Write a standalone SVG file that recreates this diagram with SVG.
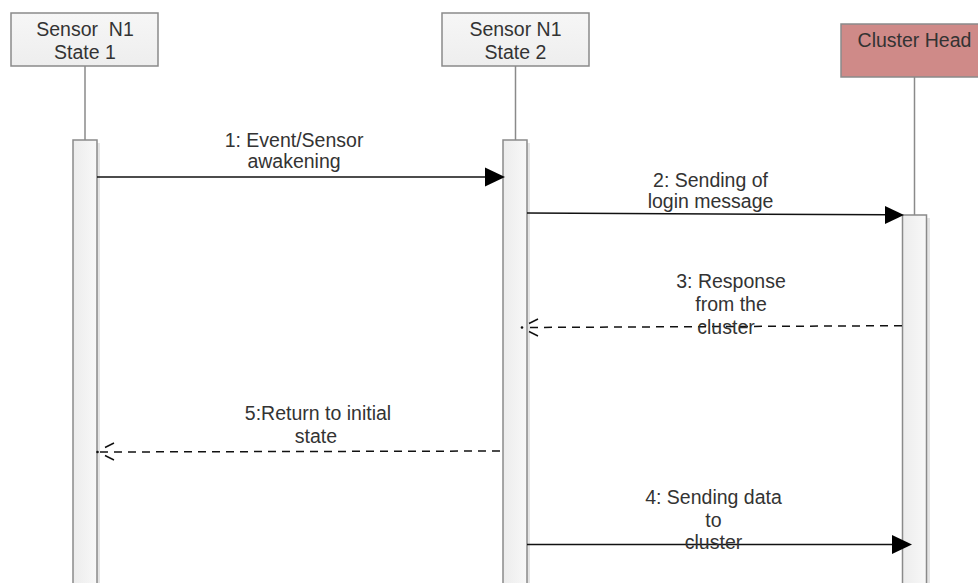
<svg xmlns="http://www.w3.org/2000/svg" width="978" height="583" viewBox="0 0 978 583">
<defs>
<linearGradient id="barg" x1="0" y1="0" x2="1" y2="0">
<stop offset="0" stop-color="#ececec"/>
<stop offset="1" stop-color="#f8f8f8"/>
</linearGradient>
<linearGradient id="boxg" x1="0" y1="0" x2="0" y2="1">
<stop offset="0" stop-color="#f6f6f6"/>
<stop offset="1" stop-color="#eeeeee"/>
</linearGradient>
</defs>
<style>
text{font-family:"Liberation Sans",Arial,sans-serif;font-size:19.5px;fill:#333;text-anchor:middle}
.box{fill:url(#boxg);stroke:#8a8a8a;stroke-width:1.5}
.life{stroke:#8a8a8a;stroke-width:1.5;fill:none}
.bar{fill:url(#barg);stroke:#8a8a8a;stroke-width:1.5}
.shadow{fill:#e4e4e4}
.msg{stroke:#111;stroke-width:1.5;fill:none}
.dash{stroke:#111;stroke-width:1.5;fill:none;stroke-dasharray:8 6}
.head{fill:#000}
.open{stroke:#111;stroke-width:1.4;fill:none}
</style>
<rect width="978" height="583" fill="#fff"/>
<g id="n1">
<rect class="box" x="11" y="13" width="147" height="53"/>
<text x="85" y="36" xml:space="preserve">Sensor  N1</text>
<text x="85" y="59">State 1</text>
<line class="life" x1="85" y1="66" x2="85" y2="140"/>
<rect class="shadow" x="97" y="143" width="3" height="445"/>
<rect class="bar" x="73" y="140" width="24" height="450"/>
</g>
<g id="n2">
<rect class="box" x="442" y="13" width="147" height="53"/>
<text x="515.5" y="36">Sensor N1</text>
<text x="515.5" y="59">State 2</text>
<line class="life" x1="515.5" y1="66" x2="515.5" y2="140"/>
<rect class="shadow" x="527" y="143" width="3" height="445"/>
<rect class="bar" x="503" y="140" width="24" height="450"/>
</g>
<g id="ch">
<rect x="841" y="24" width="147" height="53" fill="#cf8a88" stroke="#8a8a8a" stroke-width="1.5"/>
<text x="914.5" y="47">Cluster Head</text>
<line class="life" x1="914.5" y1="77" x2="914.5" y2="215"/>
<rect class="shadow" x="927" y="218" width="3" height="370"/>
<rect class="bar" x="902.5" y="215" width="24" height="375"/>
</g>
<g id="connectors">
<line class="msg" x1="97" y1="177" x2="488" y2="177"/>
<polygon class="head" points="485,167.5 505,177 485,186.5"/>
<text x="294" y="147">1: Event/Sensor</text>
<text x="294" y="168">awakening</text>

<line class="msg" x1="527" y1="213" x2="888" y2="214.8"/>
<polygon class="head" points="885,206 904,215 885,224"/>
<text x="710.5" y="187">2: Sending of</text>
<text x="710.5" y="208">login message</text>

<line class="dash" x1="902" y1="325.7" x2="524" y2="327.5"/>
<circle cx="522" cy="327.5" r="1.3" fill="#111"/>
<path class="open" d="M529,323.5 L538,319 M529,331.5 L538,336"/>
<text x="731" y="288">3: Response</text>
<text x="731" y="311">from the</text>
<text x="726" y="334">cluster</text>

<line class="dash" x1="500" y1="451" x2="100" y2="452"/>
<circle cx="97.5" cy="452" r="1.3" fill="#111"/>
<path class="open" d="M105,447.5 L114,443 M105,455.5 L114,460"/>
<text x="318" y="420">5:Return to initial</text>
<text x="316" y="443">state</text>

<line class="msg" x1="527" y1="544.5" x2="895" y2="544.5"/>
<polygon class="head" points="892,535 912,544.5 892,554"/>
<text x="713.5" y="504">4: Sending data</text>
<text x="713.5" y="527">to</text>
<text x="713.5" y="549">cluster</text>
</g>
</svg>
